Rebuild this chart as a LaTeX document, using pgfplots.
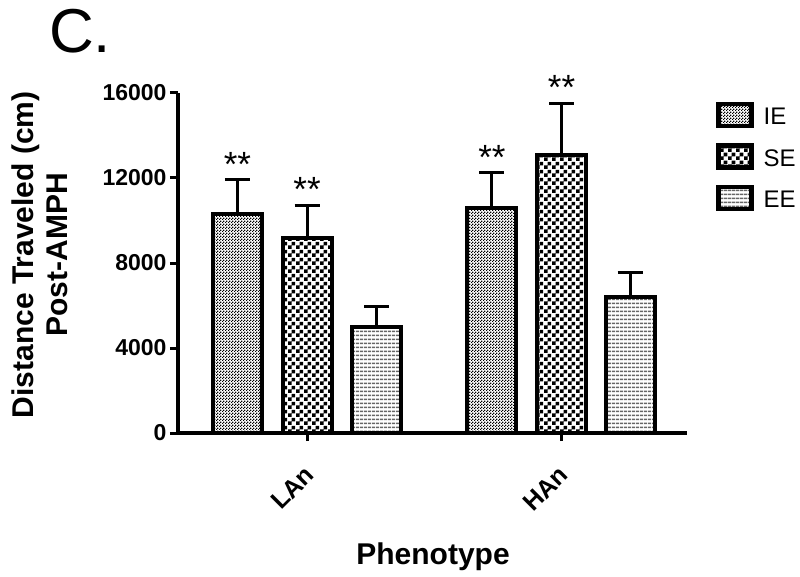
\documentclass[border=0pt]{standalone}
\usepackage{fontspec}
\setmainfont{Liberation Sans}
\usepackage{pgfplots}
\pgfplotsset{compat=1.18}
\usetikzlibrary{patterns}

\pgfdeclarepatternformonly{finechecker}{\pgfqpoint{0pt}{0pt}}{\pgfqpoint{3pt}{3pt}}{\pgfqpoint{3pt}{3pt}}{%
 \pgfpathrectangle{\pgfqpoint{0pt}{0pt}}{\pgfqpoint{1.5pt}{1.5pt}}%
 \pgfpathrectangle{\pgfqpoint{1.5pt}{1.5pt}}{\pgfqpoint{1.5pt}{1.5pt}}%
 \pgfusepath{fill}}
\pgfdeclarepatternformonly{bigchecker}{\pgfqpoint{0pt}{0pt}}{\pgfqpoint{8pt}{8pt}}{\pgfqpoint{8pt}{8pt}}{%
 \pgfpathrectangle{\pgfqpoint{0pt}{0pt}}{\pgfqpoint{4pt}{4pt}}%
 \pgfpathrectangle{\pgfqpoint{4pt}{4pt}}{\pgfqpoint{4pt}{4pt}}%
 \pgfusepath{fill}}
\pgfdeclarepatternformonly{hlines}{\pgfqpoint{0pt}{0pt}}{\pgfqpoint{4pt}{4pt}}{\pgfqpoint{4pt}{4pt}}{%
 \pgfpathrectangle{\pgfqpoint{0pt}{1.2pt}}{\pgfqpoint{4pt}{1.6pt}}%
 \pgfusepath{fill}}

\pgfplotstableread{
x y err
-0.274 10300 1650
0.728 10600 1650
}\ie
\pgfplotstableread{
x y err
0.0 9200 1500
1.002 13100 2400
}\se
\pgfplotstableread{
x y err
0.274 5000 940
1.272 6400 1130
}\ee

\begin{document}
\begin{tikzpicture}
\path[use as bounding box] (0,0) rectangle (800pt,576pt);
\node[anchor=base west, inner sep=0pt, font=\fontsize{62}{62}\selectfont] at (49pt,523pt) {C.};
\begin{axis}[
  at={(178pt,143pt)}, anchor=south west,
  scale only axis, width=509pt, height=340pt,
  xmin=-0.508, xmax=1.496, ymin=0, ymax=16000,
  axis x line=bottom, axis y line=left,
  axis line style={line width=3.5pt,-},
  every tick/.style={black, line width=3pt},
  major tick length=8pt, tick align=outside,
  xtick={0,1}, xticklabels={LAn,HAn},
  ytick={0,4000,8000,12000,16000},
  scaled y ticks=false,
  yticklabel style={/pgf/number format/set thousands separator={}, /pgf/number format/assume math mode=true, font=\bfseries\fontsize{23}{23}\selectfont},
  xticklabel style={xshift=5pt, yshift=-27pt, rotate=45, anchor=east, font=\bfseries\fontsize{25}{25}\selectfont},
  ylabel={Distance Traveled (cm)\\Post-AMPH},
  ylabel style={at={(axis description cs:-0.271,0.524)}, anchor=center, rotate=0, align=center, font=\bfseries\fontsize{30}{34}\selectfont},
  xlabel={Phenotype},
  xlabel style={at={(axis description cs:0.501,-0.365)}, anchor=center, font=\bfseries\fontsize{30}{34}\selectfont},
  ybar=0pt, bar width=0.193,
  error bars/y dir=plus, error bars/y explicit,
  error bars/error bar style={line width=3pt, black},
  error bars/error mark options={rotate=90, mark size=12.5pt, line width=3pt, black},
  legend image code/.code={\draw[#1,/tikz/.cd,line width=4.5pt] (0pt,-9pt) rectangle (33pt,13pt);},
  legend style={at={(axis description cs:1.057,0.975)}, anchor=north west, draw=none, fill=none, font=\fontsize{24}{24}\selectfont, row sep=15pt, inner sep=0pt, /tikz/every odd column/.style={column sep=8pt}},
  legend cell align=left,
  clip=false,
]
\addplot[bar shift=0pt, draw=black, line width=4pt, pattern=finechecker, pattern color=black] table[x=x, y=y, y error=err] {\ie};
\addplot[bar shift=0pt, draw=black, line width=4pt, pattern=bigchecker, pattern color=black] table[x=x, y=y, y error=err] {\se};
\addplot[bar shift=0pt, draw=black, line width=4pt, pattern=hlines, pattern color=black!60] table[x=x, y=y, y error=err] {\ee};
\legend{IE,SE,EE}
\node[anchor=base, font=\fontsize{35}{35}\selectfont] at (axis cs:-0.274,12050) {**};
\node[anchor=base, font=\fontsize{35}{35}\selectfont] at (axis cs:0,10900) {**};
\node[anchor=base, font=\fontsize{35}{35}\selectfont] at (axis cs:0.728,12400) {**};
\node[anchor=base, font=\fontsize{35}{35}\selectfont] at (axis cs:1.002,15700) {**};
\end{axis}
\end{tikzpicture}
\end{document}
